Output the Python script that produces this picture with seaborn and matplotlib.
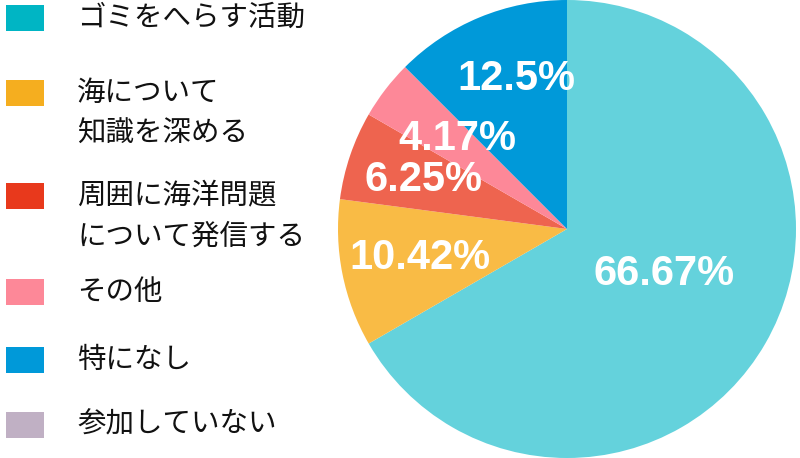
import numpy as np
import matplotlib
matplotlib.use("Agg")
import matplotlib.pyplot as plt
from matplotlib.patches import Rectangle
import seaborn as sns

# ── Data ─────────────────────────────────────────────────────────────────────
categories = [
    "ゴミをへらす活動",
    "海について\n知識を深める",
    "周囲に海洋問題\nについて発信する",
    "その他",
    "特になし",
    "参加していない",
]
shares = [66.67, 10.42, 6.25, 4.17, 12.5, 0.0]
pct_labels = ["66.67%", "10.42%", "6.25%", "4.17%", "12.5%", ""]

# ── Style ────────────────────────────────────────────────────────────────────
slice_colors = sns.color_palette(["#64d2dc", "#f9bb45", "#ee644f", "#fd8898", "#0099d9", "#c0b0c4"])
legend_colors = sns.color_palette(["#00b5c4", "#f5ae1f", "#e8391c", "#fd8898", "#0099d9", "#c0b0c4"])
label_radius = [0.47, 0.655, 0.66, 0.62, 0.69, 0.6]   # where each % label sits (fraction of R)
label_nudge = [5, 0, 0, -2, -4, 0]                      # small angular tweak, degrees
row_y = [18, 93, 196, 292, 360, 425]                    # legend rows, pixels from top

sns.set_theme(style="white")
plt.rcParams["font.family"] = ["Noto Sans CJK JP", "DejaVu Sans"]

fig = plt.figure(figsize=(8, 4.58), dpi=100)

# ── Pie ──────────────────────────────────────────────────────────────────────
ax = fig.add_axes([338 / 800, 0, 458 / 800, 1])
wedges, _ = ax.pie(
    shares, colors=slice_colors, startangle=90, counterclock=False,
    radius=1.0, wedgeprops=dict(linewidth=0),
)
for w, lab, r, nd in zip(wedges, pct_labels, label_radius, label_nudge):
    if not lab:
        continue
    mid = np.deg2rad((w.theta1 + w.theta2) / 2 + nd)
    ax.text(r * np.cos(mid), r * np.sin(mid), lab, ha="center", va="center",
            color="white", fontsize=30, fontweight="bold",
            family=["Liberation Sans", "DejaVu Sans"])
ax.set_xlim(-1.0, 1.0)
ax.set_ylim(-1.0, 1.0)
ax.set_aspect("equal")
ax.axis("off")

# ── Legend (drawn by hand, pixel coords) ─────────────────────────────────────
lax = fig.add_axes([0, 0, 1, 1])
lax.set_xlim(0, 800)
lax.set_ylim(458, 0)
lax.axis("off")
for cat, col, y in zip(categories, legend_colors, row_y):
    lax.add_patch(Rectangle((6, y - 13), 38, 26, color=col, lw=0))
    for i, line in enumerate(cat.split("\n")):
        lax.text(77, y + i * 41, line, ha="left", va="center",
                 fontsize=20.5, color="#111111")

fig.savefig("out.png", dpi=100)
plt.close(fig)
